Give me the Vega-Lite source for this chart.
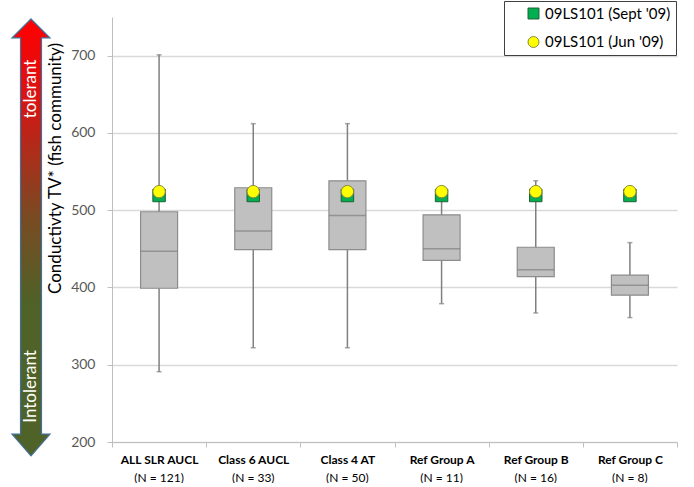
{
  "$schema": "https://vega.github.io/schema/vega-lite/v6.json",
  "padding": {"left": 9, "top": 0, "right": 0, "bottom": 0},
  "bounds": "flush",
  "spacing": 62,
  "config": {
    "view": {"stroke": null},
    "font": "Lato",
    "legend": {
      "orient": "none",
      "legendX": 492,
      "legendY": -16,
      "strokeColor": "#404040",
      "fillColor": "white",
      "padding": 5,
      "symbolOffset": 17,
      "labelFontSize": 15,
      "labelColor": "black",
      "labelLimit": 300,
      "rowPadding": 12.5,
      "symbolSize": 120,
      "symbolStrokeWidth": 1
    }
  },
  "hconcat": [
    {
      "width": 38,
      "height": 425,
      "data": {"values": [{}]},
      "layer": [
        {
          "mark": {
            "type": "point",
            "shape": "M0,-1L0.087,-0.913L0.048,-0.913L0.048,0.9L0.087,0.9L0,1L-0.087,0.9L-0.048,0.9L-0.048,-0.913L-0.087,-0.913Z",
            "size": 190969,
            "filled": true,
            "opacity": 1,
            "fill": {
              "gradient": "linear",
              "x1": 0, "y1": 0, "x2": 0, "y2": 1,
              "stops": [
                {"offset": 0, "color": "#ff0000"},
                {"offset": 0.18, "color": "#d81414"},
                {"offset": 0.45, "color": "#7a4a22"},
                {"offset": 0.65, "color": "#4f6228"},
                {"offset": 1, "color": "#4f6228"}
              ]
            },
            "stroke": "#41719c",
            "strokeWidth": 1.2
          },
          "encoding": {
            "y": {"datum": 464.7, "type": "quantitative", "scale": {"domain": [200, 750], "nice": false, "zero": false}, "axis": null}
          }
        },
        {
          "mark": {"type": "text", "text": "tolerant", "angle": 270, "color": "white", "fontSize": 17, "align": "center", "baseline": "middle"},
          "encoding": {
            "y": {"datum": 657, "type": "quantitative", "scale": {"domain": [200, 750], "nice": false, "zero": false}, "axis": null}
          }
        },
        {
          "mark": {"type": "text", "text": "Intolerant", "angle": 270, "color": "white", "fontSize": 17, "align": "center", "baseline": "middle"},
          "encoding": {
            "y": {"datum": 272, "type": "quantitative", "scale": {"domain": [200, 750], "nice": false, "zero": false}, "axis": null}
          }
        }
      ]
    },
    {
      "width": 565,
      "height": 425,
      "data": {
        "values": [
          {"group": "ALL SLR AUCL|(N = 121)", "min": 291, "q1": 399, "median": 447, "q3": 498, "max": 701},
          {"group": "Class 6 AUCL|(N = 33)", "min": 322, "q1": 449, "median": 473, "q3": 529, "max": 612},
          {"group": "Class 4 AT|(N = 50)", "min": 322, "q1": 449, "median": 493, "q3": 538, "max": 612},
          {"group": "Ref Group A|(N = 11)", "min": 379, "q1": 435, "median": 450, "q3": 494, "max": 521},
          {"group": "Ref Group B|(N = 16)", "min": 367, "q1": 414, "median": 423, "q3": 452, "max": 538},
          {"group": "Ref Group C|(N = 8)", "min": 361, "q1": 390, "median": 403, "q3": 416, "max": 458}
        ]
      },
      "resolve": {"axis": {"x": "independent"}},
      "layer": [
        {
          "mark": {"type": "rule", "color": "#808080", "strokeWidth": 1.5},
          "encoding": {
            "x": {
              "field": "group", "type": "nominal", "sort": null,
              "scale": {"type": "band", "paddingInner": 0, "paddingOuter": 0},
              "axis": {
                "orient": "bottom",
                "title": null,
                "labelExpr": "split(datum.label, '|')[0]",
                "labelAngle": 0,
                "labelFontWeight": "bold",
                "labelFontSize": 12,
                "labelColor": "black",
                "labelPadding": 7,
                "tickBand": "extent",
                "tickSize": 5,
                "tickColor": "#bfbfbf",
                "domainColor": "#bfbfbf",
                "grid": false
              }
            },
            "y": {
              "field": "min", "type": "quantitative",
              "scale": {"domain": [200, 750], "nice": false, "zero": false},
              "axis": {
                "title": "Conductivty TV* (fish community)",
                "values": [200, 250, 300, 350, 400, 450, 500, 550, 600, 650, 700, 750],
                "labelExpr": "datum.value % 100 === 0 && datum.value < 750 ? datum.label : ''",
                "tickColor": {"condition": {"test": "datum.value % 100 === 0 && datum.value < 750", "value": "#bfbfbf"}, "value": "transparent"},
                "grid": true,
                "gridColor": "#d9d9d9",
                "gridWidth": 1.5,
                "gridOpacity": 1,
                "domainColor": "#bfbfbf",
                "tickSize": 5,
                "labelFontSize": 14,
                "labelColor": "#595959",
                "labelPadding": 12,
                "labelFlush": false,
                "labelOverlap": false,
                "titleFontSize": 17,
                "titleFontWeight": "normal",
                "titleColor": "black",
                "titlePadding": 6,
                "titleY": 151
              }
            },
            "y2": {"field": "max"}
          }
        },
        {
          "mark": {"type": "tick", "color": "#808080", "thickness": 1.5, "size": 5},
          "encoding": {
            "x": {"field": "group", "type": "nominal", "sort": null, "axis": null},
            "y": {"field": "min", "type": "quantitative"}
          }
        },
        {
          "mark": {"type": "tick", "color": "#808080", "thickness": 1.5, "size": 5},
          "encoding": {
            "x": {"field": "group", "type": "nominal", "sort": null, "axis": null},
            "y": {"field": "max", "type": "quantitative"}
          }
        },
        {
          "mark": {"type": "bar", "size": 37, "fill": "#c0c0c0", "stroke": "#8c8c8c", "strokeWidth": 1.2},
          "encoding": {
            "x": {
              "field": "group", "type": "nominal", "sort": null,
              "axis": {
                "orient": "bottom",
                "title": null,
                "labelExpr": "split(datum.label, '|')[1]",
                "labelAngle": 0,
                "labelFontSize": 12,
                "labelColor": "black",
                "labelPadding": 30,
                "ticks": false,
                "domain": false,
                "grid": false
              }
            },
            "y": {"field": "q1", "type": "quantitative"},
            "y2": {"field": "q3"}
          }
        },
        {
          "mark": {"type": "tick", "color": "#808080", "thickness": 1.5, "size": 37},
          "encoding": {
            "x": {"field": "group", "type": "nominal", "sort": null, "axis": null},
            "y": {"field": "median", "type": "quantitative"}
          }
        },
        {
          "data": {
            "values": [
              {"group": "ALL SLR AUCL|(N = 121)", "series": "09LS101 (Sept '09)", "value": 519},
              {"group": "Class 6 AUCL|(N = 33)", "series": "09LS101 (Sept '09)", "value": 519},
              {"group": "Class 4 AT|(N = 50)", "series": "09LS101 (Sept '09)", "value": 519},
              {"group": "Ref Group A|(N = 11)", "series": "09LS101 (Sept '09)", "value": 519},
              {"group": "Ref Group B|(N = 16)", "series": "09LS101 (Sept '09)", "value": 519},
              {"group": "Ref Group C|(N = 8)", "series": "09LS101 (Sept '09)", "value": 519},
              {"group": "ALL SLR AUCL|(N = 121)", "series": "09LS101 (Jun '09)", "value": 524},
              {"group": "Class 6 AUCL|(N = 33)", "series": "09LS101 (Jun '09)", "value": 524},
              {"group": "Class 4 AT|(N = 50)", "series": "09LS101 (Jun '09)", "value": 524},
              {"group": "Ref Group A|(N = 11)", "series": "09LS101 (Jun '09)", "value": 524},
              {"group": "Ref Group B|(N = 16)", "series": "09LS101 (Jun '09)", "value": 524},
              {"group": "Ref Group C|(N = 8)", "series": "09LS101 (Jun '09)", "value": 524}
            ]
          },
          "mark": {"type": "point", "filled": true, "opacity": 1, "size": 155, "strokeWidth": 1},
          "encoding": {
            "x": {"field": "group", "type": "nominal", "sort": null, "axis": null},
            "y": {"field": "value", "type": "quantitative"},
            "fill": {
              "field": "series", "type": "nominal",
              "scale": {"domain": ["09LS101 (Sept '09)", "09LS101 (Jun '09)"], "range": ["#00b050", "#ffff00"]},
              "legend": {"title": null}
            },
            "shape": {
              "field": "series", "type": "nominal",
              "scale": {"domain": ["09LS101 (Sept '09)", "09LS101 (Jun '09)"], "range": ["square", "circle"]},
              "legend": {"title": null}
            },
            "stroke": {
              "field": "series", "type": "nominal",
              "scale": {"domain": ["09LS101 (Sept '09)", "09LS101 (Jun '09)"], "range": ["#1f5f32", "#8a8a3a"]},
              "legend": {"title": null}
            }
          }
        }
      ]
    }
  ]
}
